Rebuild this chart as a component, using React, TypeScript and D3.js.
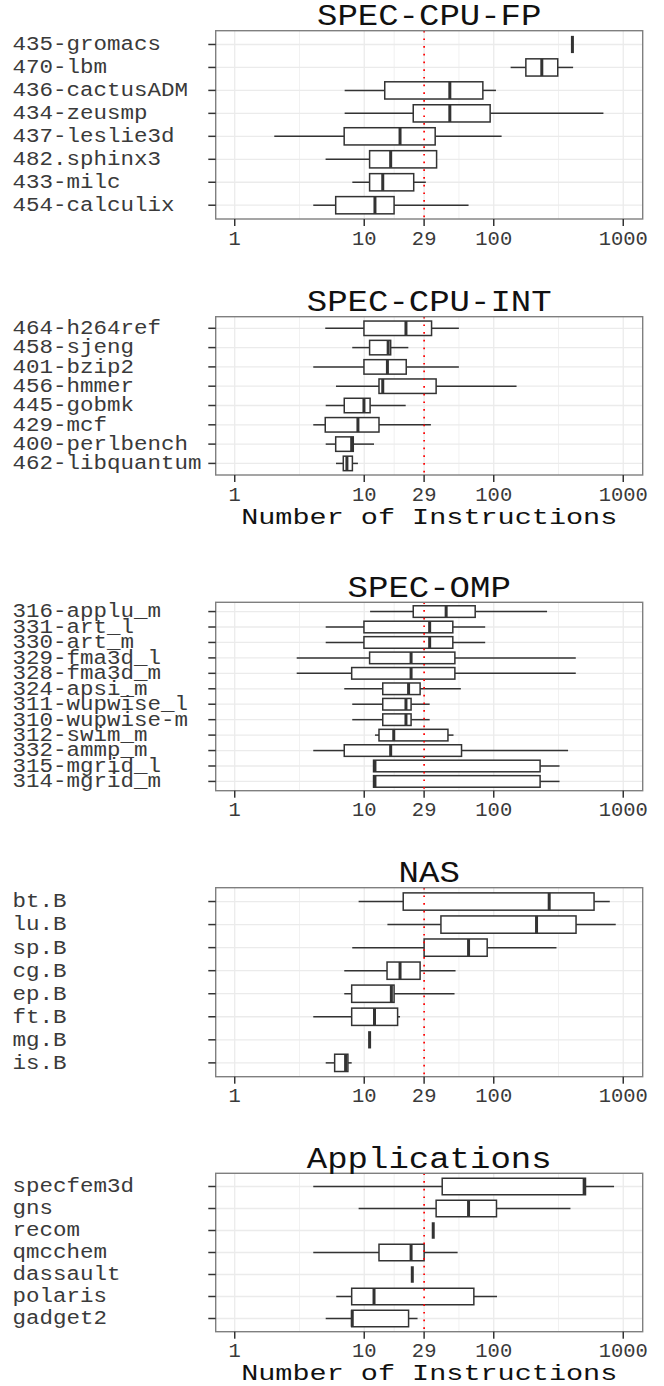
import React from 'react';
import * as d3 from 'd3';

// ---------- DATA ----------
// stats per category: [whiskerLow, q1, median, q3, whiskerHigh]
const fpNames = ['435-gromacs', '470-lbm', '436-cactusADM', '434-zeusmp', '437-leslie3d', '482.sphinx3', '433-milc', '454-calculix'];
const fpStats = [
  [405, 405, 405, 405, 405],
  [135, 177, 235, 312, 410],
  [7.06, 14.4, 45.8, 82.4, 104],
  [7.06, 23.9, 45.8, 93.8, 703],
  [2.02, 7.0, 18.9, 35.3, 115],
  [5.03, 11.0, 16.0, 36.2, 36.2],
  [8.09, 11.0, 13.9, 24.1, 29.9],
  [4.04, 6.02, 12.1, 17.0, 63.9],
];

const intNames = ['464-h264ref', '458-sjeng', '401-bzip2', '456-hmmer', '445-gobmk', '429-mcf', '400-perlbench', '462-libquantum'];
const intStats = [
  [5.0, 9.95, 21.0, 33.1, 53.8],
  [8.08, 11.0, 15.3, 16.0, 21.9],
  [4.04, 9.95, 15.1, 21.1, 53.8],
  [6.05, 13.0, 13.9, 35.9, 150],
  [5.04, 7.01, 9.95, 11.1, 20.9],
  [4.04, 5.0, 8.94, 13.0, 32.7],
  [5.04, 6.02, 8.0, 8.23, 11.9],
  [6.05, 6.89, 7.35, 8.1, 8.94],
];

const ompNames = ['316-applu_m', '331-art_l', '330-art_m', '329-fma3d_l', '328-fma3d_m', '324-apsi_m', '311-wupwise_l', '310-wupwise-m', '312-swim_m', '332-ammp_m', '315-mgrid_l', '314-mgrid_m'];
const ompStats = [
  [11.1, 23.9, 42.9, 71.9, 258],
  [5.04, 9.95, 32.0, 48.3, 85.9],
  [5.04, 9.95, 32.0, 48.3, 85.9],
  [3.01, 11.0, 23.0, 50.1, 430],
  [3.01, 8.0, 23.0, 50.1, 430],
  [7.01, 13.9, 22.0, 27.0, 55.7],
  [8.08, 13.9, 21.0, 23.0, 32.0],
  [8.08, 13.9, 21.0, 23.0, 32.0],
  [12.1, 13.0, 16.9, 44.3, 48.9],
  [4.04, 7.01, 16.0, 56.4, 375],
  [11.8, 11.8, 12.1, 228, 322],
  [11.8, 11.8, 12.1, 228, 322],
];

const nasNames = ['bt.B', 'lu.B', 'sp.B', 'cg.B', 'ep.B', 'ft.B', 'mg.B', 'is.B'];
const nasStats = [
  [9.05, 20.0, 268, 595, 787],
  [15.1, 39.1, 214, 432, 875],
  [8.08, 29.0, 63.9, 89.0, 305],
  [7.01, 15.0, 18.9, 27.0, 50.7],
  [7.01, 8.0, 16.2, 17.0, 49.8],
  [4.04, 8.0, 12.0, 18.1, 18.9],
  [11.0, 11.0, 11.0, 11.0, 11.0],
  [5.04, 5.91, 7.18, 7.48, 8.0],
];

const appNames = ['specfem3d', 'gns', 'recom', 'qmcchem', 'dassault', 'polaris', 'gadget2'];
const appStats = [
  [4.04, 40.0, 499, 511, 849],
  [9.05, 35.9, 63.9, 105, 391],
  [34.1, 34.1, 34.1, 34.1, 34.1],
  [4.04, 13.0, 23.0, 29.0, 52.6],
  [23.5, 23.5, 23.5, 23.5, 23.5],
  [6.08, 8.0, 11.9, 70.2, 106],
  [5.04, 8.0, 8.08, 22.0, 25.8],
];

const panelTitles = ['SPEC-CPU-FP', 'SPEC-CPU-INT', 'SPEC-OMP', 'NAS', 'Applications'];
const xTickValues = [1, 10, 29, 100, 1000];
const xTickLabels = ['1', '10', '29', '100', '1000'];
const threshold = 29;
const xAxisTitle = 'Number of Instructions';

// ---------- LAYOUT ----------
const W = 664;
const H = 1386;
const plotLeft = 215.7;
const plotRight = 642.7;
const panels = [
  { title: panelTitles[0], names: fpNames, stats: fpStats, top: 30.7, bottom: 219, axisTitle: false },
  { title: panelTitles[1], names: intNames, stats: intStats, top: 316.7, bottom: 475, axisTitle: true },
  { title: panelTitles[2], names: ompNames, stats: ompStats, top: 602.3, bottom: 790.7, axisTitle: false },
  { title: panelTitles[3], names: nasNames, stats: nasStats, top: 887.7, bottom: 1076.7, axisTitle: false },
  { title: panelTitles[4], names: appNames, stats: appStats, top: 1173.3, bottom: 1331.7, axisTitle: true },
];

const FONT = '"Liberation Mono", "Courier New", monospace';
const boxColor = '#333333';
const gridColor = '#ebebeb';

const x = d3.scaleLog().domain([0.713, 1413]).range([plotLeft, plotRight]);
const minorBreaks = [Math.sqrt(1 * 10), Math.sqrt(10 * 29), Math.sqrt(29 * 100), Math.sqrt(100 * 1000)];

function SText({ x: tx, y: ty, sy, anchor, size, fill, children }: any) {
  return (
    <text
      transform={`translate(${tx},${ty}) scale(1,${sy})`}
      textAnchor={anchor}
      fontFamily={FONT}
      fontSize={size}
      fill={fill}
    >
      {children}
    </text>
  );
}

function Panel({ p }: { p: any }) {
  const y = d3.scalePoint<string>().domain(p.names).range([p.top, p.bottom]).padding(0.6);
  const step = y.step();
  const bh = step * 0.75;
  return (
    <g>
      <rect x={plotLeft} y={p.top} width={plotRight - plotLeft} height={p.bottom - p.top} fill="#fff" />
      {minorBreaks.map((v, i) => (
        <line key={'mi' + i} x1={x(v)} x2={x(v)} y1={p.top} y2={p.bottom} stroke={gridColor} strokeWidth={0.7} />
      ))}
      {xTickValues.map((v, i) => (
        <line key={'ma' + i} x1={x(v)} x2={x(v)} y1={p.top} y2={p.bottom} stroke={gridColor} strokeWidth={1.3} />
      ))}
      {p.names.map((n: string) => (
        <line key={'hg' + n} x1={plotLeft} x2={plotRight} y1={y(n)} y2={y(n)} stroke={gridColor} strokeWidth={1.3} />
      ))}
      {p.names.map((n: string, i: number) => {
        const [lo, q1, med, q3, hi] = p.stats[i];
        const cy = y(n) as number;
        return (
          <g key={'b' + n}>
            <line x1={x(lo)} x2={x(q1)} y1={cy} y2={cy} stroke={boxColor} strokeWidth={1.5} />
            <line x1={x(q3)} x2={x(hi)} y1={cy} y2={cy} stroke={boxColor} strokeWidth={1.5} />
            <rect x={x(q1)} y={cy - bh / 2} width={x(q3) - x(q1)} height={bh} fill="#fff" stroke={boxColor} strokeWidth={1.5} />
            <line x1={x(med)} x2={x(med)} y1={cy - bh / 2} y2={cy + bh / 2} stroke={boxColor} strokeWidth={3} />
          </g>
        );
      })}
      <line x1={x(threshold)} x2={x(threshold)} y1={p.top} y2={p.bottom} stroke="#ff0000" strokeWidth={1.7} strokeDasharray="1.7 6" />
      <rect x={plotLeft} y={p.top} width={plotRight - plotLeft} height={p.bottom - p.top} fill="none" stroke="#7f7f7f" strokeWidth={1.4} />
      {p.names.map((n: string) => (
        <line key={'yt' + n} x1={plotLeft - 7.4} x2={plotLeft} y1={y(n)} y2={y(n)} stroke={boxColor} strokeWidth={1.5} />
      ))}
      {p.names.map((n: string) => (
        <SText key={'yl' + n} x={12.5} y={(y(n) as number) + 5.9} sy={0.86} anchor="start" size={22.5} fill="#3a3a3a">
          {n}
        </SText>
      ))}
      {xTickValues.map((v, i) => (
        <g key={'xt' + i}>
          <line x1={x(v)} x2={x(v)} y1={p.bottom} y2={p.bottom + 7} stroke={boxColor} strokeWidth={1.5} />
          <SText x={x(v)} y={p.bottom + 25.5} sy={0.97} anchor="middle" size={20.5} fill="#3a3a3a">
            {xTickLabels[i]}
          </SText>
        </g>
      ))}
      <SText x={(plotLeft + plotRight) / 2} y={p.top - 5.8} sy={0.88} anchor="middle" size={34} fill="#111">
        {p.title}
      </SText>
      {p.axisTitle && (
        <SText x={(plotLeft + plotRight) / 2} y={p.bottom + 48.5} sy={0.8} anchor="middle" size={28.5} fill="#111">
          {xAxisTitle}
        </SText>
      )}
    </g>
  );
}

export default function App() {
  return (
    <svg width={W} height={H} style={{ position: 'absolute', left: 0, top: 0, background: '#fff' }}>
      <rect x={0} y={0} width={W} height={H} fill="#fff" />
      {panels.map((p, i) => (
        <Panel key={i} p={p} />
      ))}
    </svg>
  );
}
